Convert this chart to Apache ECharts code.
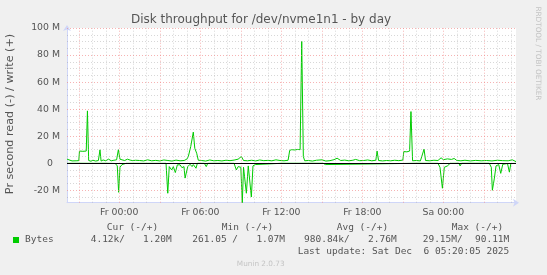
<!DOCTYPE html>
<html><head><meta charset="utf-8">
<script src="https://cdn.jsdelivr.net/npm/echarts@6/dist/echarts.min.js"></script>
<style>html,body{margin:0;padding:0;background:#f0f0f0;}#c{width:547px;height:275px;}</style>
</head><body><div id="c"></div>
<script>
// x values are hours relative to Fr 00:00
const tickHours = [0, 6, 12, 18, 24];
const tickLabels = ['Fr 00:00', 'Fr 06:00', 'Fr 12:00', 'Fr 18:00', 'Sa 00:00'];
const yTicks = [-20, 0, 20, 40, 60, 80, 100];

// write (+), MB/s
const writeHours = [-3.87,-3.80,-3.50,-3.20,-3.00,-2.95,-2.70,-2.45,-2.36,-2.27,-2.10,-1.95,-1.75,-1.55,-1.43,-1.35,-1.20,-1.00,-0.80,-0.60,-0.40,-0.20,-0.07,0.05,0.20,0.40,0.60,0.80,1.00,1.20,1.50,1.80,2.10,2.40,2.70,3.00,3.30,3.60,3.90,4.20,4.50,4.80,5.00,5.11,5.29,5.48,5.59,5.73,5.85,6.10,6.40,6.70,7.00,7.30,7.60,7.90,8.20,8.50,8.80,9.04,9.20,9.50,9.80,10.10,10.40,10.70,11.00,11.30,11.60,11.90,12.20,12.50,12.62,12.77,13.00,13.20,13.39,13.51,13.63,13.73,14.00,14.30,14.60,15.01,15.30,15.60,15.90,16.13,16.40,16.70,17.00,17.30,17.50,17.80,18.10,18.40,18.70,19.00,19.09,19.20,19.50,19.80,20.10,20.40,20.70,21.00,21.07,21.30,21.50,21.60,21.72,22.00,22.30,22.57,22.68,23.00,23.30,23.60,23.83,24.00,24.30,24.60,24.80,25.00,25.30,25.60,26.00,26.40,26.80,27.20,27.60,28.00,28.40,28.80,29.10,29.38];
const writeMB = [3.0,1.8,1.7,1.8,1.9,9.0,8.8,9.0,38.7,2.0,1.5,2.2,1.6,2.0,9.9,1.6,2.4,1.8,3.0,1.8,2.2,2.5,10.0,3.0,2.5,2.0,3.0,2.3,1.9,2.2,2.0,1.7,2.5,1.8,2.1,1.7,2.4,2.0,1.6,2.3,1.8,2.0,3.0,4.9,12.3,23.0,11.0,7.4,2.2,2.0,1.6,2.4,1.8,2.0,1.7,2.2,1.9,2.3,3.0,5.0,2.0,1.8,2.2,1.7,2.4,1.9,2.1,1.8,2.5,2.0,1.8,2.2,9.5,10.0,9.8,10.2,10.0,90.11,5.0,1.8,2.0,1.6,2.2,2.5,1.6,1.9,2.6,3.7,2.0,2.3,1.8,2.2,2.8,1.9,2.0,2.4,1.8,2.2,9.0,2.0,1.7,2.0,1.8,2.2,1.9,2.3,8.6,8.4,9.0,38.2,1.8,2.0,1.7,10.4,2.0,1.8,2.2,2.0,4.0,2.6,3.2,2.8,3.5,2.0,1.8,2.2,1.7,2.1,1.8,2.0,1.7,2.2,1.9,1.8,2.5,1.2];

// read (-), MB/s magnitudes
const readHours = [-3.87,-3.00,-2.00,-1.00,-0.91,-0.80,-0.30,-0.15,-0.05,0.05,0.20,0.50,1.10,1.16,1.25,2.50,3.46,3.59,3.70,3.88,4.00,4.15,4.30,4.50,4.64,4.79,4.87,4.96,5.07,5.24,5.39,5.48,5.68,5.78,6.30,6.44,6.55,7.50,8.50,8.67,8.80,9.00,9.11,9.20,9.41,9.55,9.78,9.90,10.07,10.20,12.00,15.10,15.26,15.40,22.00,23.60,23.75,23.93,24.07,24.30,24.50,25.15,25.24,25.35,27.40,27.55,27.63,27.78,27.90,28.10,28.25,28.40,28.75,28.89,29.00,29.38];
const readMB = [0.1,0.05,0.1,0.05,1.2,0.1,0.2,2.0,21.5,3.0,1.0,0.1,0.1,1.5,0.1,0.1,0.1,22.2,2.5,5.0,2.5,6.9,1.2,1.2,3.3,2.5,11.0,11.0,2.5,0.8,2.5,1.0,3.7,0.1,0.1,2.5,0.1,0.05,0.1,5.0,2.5,3.0,29.15,3.0,22.2,2.0,25.0,2.0,1.0,0.1,0.05,0.05,1.0,0.05,0.05,0.1,3.0,18.5,3.0,2.0,0.1,0.05,2.0,0.05,0.05,3.0,20.0,11.0,2.0,1.0,7.5,0.8,0.2,6.6,0.2,0.1];

const legendHeaders = ['Cur (-/+)', 'Min (-/+)', 'Avg (-/+)', 'Max (-/+)'];
const readStats = ['4.12k/', '261.05 /', '980.84k/', '29.15M/'];
const writeStats = ['1.20M', '1.07M', '2.76M', '90.11M'];
const seriesName = 'Bytes';
const lastUpdate = 'Last update: Sat Dec  6 05:20:05 2025';

const X_MIN = -3.874, X_MAX = 29.38, Y_MIN = -29.2, Y_MAX = 100;
const GREEN = '#00cc00', AXIS = '#cfd6f8', FONT = '#555';
const MINOR = 'rgba(160,160,160,0.42)', MAJOR = 'rgba(240,128,128,0.6)';

const gridLines = [];
for (let h = -3; h <= 29; h++) {
  gridLines.push({xAxis: h, lineStyle: {color: h % 3 === 0 ? MAJOR : MINOR, type: [1, 2], width: 1}});
}
for (let v = -25; v <= 100; v += 5) {
  if (v === 0) continue;
  gridLines.push({yAxis: v, lineStyle: {color: v % 20 === 0 ? MAJOR : MINOR, type: [1, 2], width: 1}});
}

const chart = echarts.init(document.getElementById('c'), null, {renderer: 'canvas'});
const legendHeaderX = [106.7, 221.7, 336.7, 451.7];
const readStatX = [90.7, 192.3, 304, 422.7];
const writeStatRight = [171.7, 285, 396.7, 509.3];
const monoFont = '"DejaVu Sans Mono", monospace';
const graphics = [];
legendHeaders.forEach((t, i) => graphics.push({type: 'text', x: legendHeaderX[i], y: 227.5, style: {text: t, fill: FONT, font: '9.5px ' + monoFont, textAlign: 'left', textVerticalAlign: 'middle'}}));
readStats.forEach((t, i) => graphics.push({type: 'text', x: readStatX[i], y: 239.5, style: {text: t, fill: FONT, font: '9.5px ' + monoFont, textAlign: 'left', textVerticalAlign: 'middle'}}));
writeStats.forEach((t, i) => graphics.push({type: 'text', x: writeStatRight[i], y: 239.5, style: {text: t, fill: FONT, font: '9.5px ' + monoFont, textAlign: 'right', textVerticalAlign: 'middle'}}));
graphics.push({type: 'rect', shape: {x: 13, y: 237, width: 6, height: 6}, style: {fill: GREEN}});
graphics.push({type: 'text', x: 25, y: 239.5, style: {text: seriesName, fill: FONT, font: '9.5px ' + monoFont, textAlign: 'left', textVerticalAlign: 'middle'}});
graphics.push({type: 'text', x: 509.3, y: 252, style: {text: lastUpdate, fill: FONT, font: '9.5px ' + monoFont, textAlign: 'right', textVerticalAlign: 'middle'}});
graphics.push({type: 'text', x: 260.7, y: 264, style: {text: 'Munin 2.0.73', fill: '#c4c4c4', font: '7.3px "DejaVu Sans"', textAlign: 'center', textVerticalAlign: 'middle'}});
graphics.push({type: 'text', x: 261, y: 19.5, style: {text: 'Disk throughput for /dev/nvme1n1 - by day', fill: FONT, font: '12px "DejaVu Sans"', textAlign: 'center', textVerticalAlign: 'middle'}});
graphics.push({type: 'text', x: 10.5, y: 114, rotation: Math.PI / 2, style: {text: 'Pr second read (-) / write (+)', fill: FONT, font: '11.2px "DejaVu Sans"', textAlign: 'center', textVerticalAlign: 'middle'}});
graphics.push({type: 'text', x: 538, y: 53.4, rotation: -Math.PI / 2, style: {text: 'RRDTOOL / TOBI OETIKER', fill: '#c4c4c4', font: '7.3px "DejaVu Sans"', textAlign: 'center', textVerticalAlign: 'middle'}});

chart.setOption({
  animation: false,
  backgroundColor: '#f0f0f0',
  grid: {left: 67, right: 31, top: 28, bottom: 72.3, show: true, backgroundColor: '#ffffff', borderWidth: 0},
  xAxis: {
    type: 'value', min: X_MIN, max: X_MAX,
    axisLine: {show: true, onZero: false, lineStyle: {color: AXIS, width: 1}, symbol: ['none', 'arrow'], symbolSize: [6, 6], symbolOffset: [0, 3]},
    axisTick: {show: false},
    splitLine: {show: false},
    axisLabel: {
      customValues: tickHours, margin: 5, color: FONT, fontSize: 9.33, fontFamily: 'DejaVu Sans',
      formatter: v => { const i = tickHours.indexOf(v); return i >= 0 ? tickLabels[i] : ''; }
    }
  },
  yAxis: {
    type: 'value', min: Y_MIN, max: Y_MAX,
    axisLine: {show: true, onZero: false, lineStyle: {color: AXIS, width: 1}, symbol: ['none', 'arrow'], symbolSize: [6, 6], symbolOffset: [0, 3]},
    axisTick: {show: false},
    splitLine: {show: false},
    axisLabel: {
      customValues: yTicks, margin: 7, color: FONT, fontSize: 9.33, fontFamily: 'DejaVu Sans',
      formatter: v => v === 0 ? '{z|0}' : v + ' M',
      rich: {z: {padding: [0, 7, 0, 0], color: FONT, fontSize: 9.33, fontFamily: 'DejaVu Sans'}}
    }
  },
  graphic: graphics,
  series: [
    {type: 'line', data: [], z: 1, silent: true,
     markLine: {silent: true, symbol: ['none', 'none'], label: {show: false}, animation: false, data: gridLines}},
    {name: 'write', type: 'line', z: 3, showSymbol: false, symbol: 'none',
     lineStyle: {color: GREEN, width: 1}, data: writeHours.map((h, i) => [h, writeMB[i]])},
    {name: 'read', type: 'line', z: 3, showSymbol: false, symbol: 'none',
     lineStyle: {color: GREEN, width: 1}, data: readHours.map((h, i) => [h, -readMB[i]])},
    {type: 'line', data: [], z: 5, silent: true,
     markLine: {silent: true, symbol: ['none', 'none'], label: {show: false}, animation: false,
       data: [{yAxis: 0, lineStyle: {color: '#000', type: 'solid', width: 1}}]}}
  ]
});
</script></body></html>
